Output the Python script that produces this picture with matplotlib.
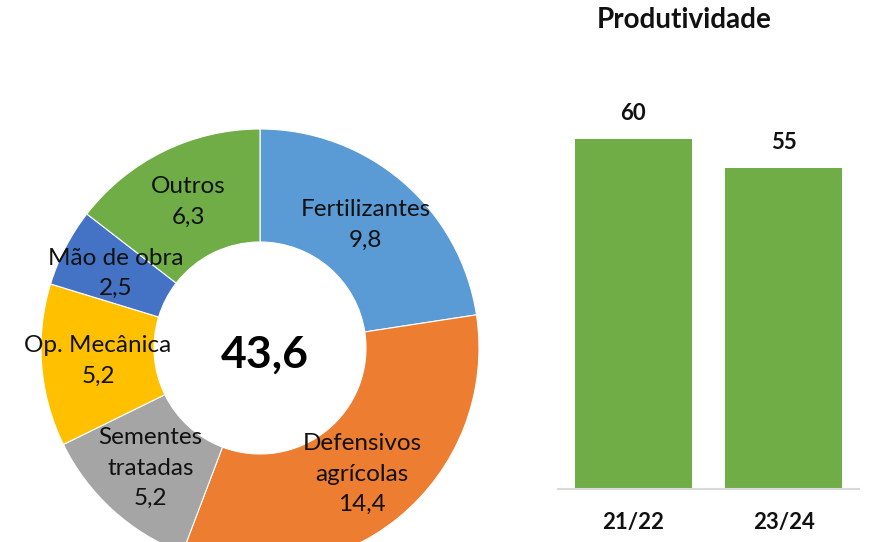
import matplotlib
matplotlib.use("Agg")
import matplotlib.pyplot as plt

plt.rcParams['font.family'] = ['Lato', 'DejaVu Sans']

# Donut data (custo, clockwise from top)
cost_names = ["Fertilizantes", "Defensivos\nagrícolas", "Sementes\ntratadas",
              "Op. Mecânica", "Mão de obra", "Outros"]
cost_values = [9.8, 14.4, 5.2, 5.2, 2.5, 6.3]
cost_colors = ["#5B9BD5", "#ED7D31", "#A5A5A5", "#FFC000", "#4472C4", "#70AD47"]
total_label = "43,6"

# Bar data (produtividade)
seasons = ["21/22", "23/24"]
productivity = [60, 55]
bar_color = "#70AD47"

W, H = 871, 542
fig = plt.figure(figsize=(W / 100, H / 100), dpi=100)

# ---- Donut ----
cx, cy, R = 260, 348, 219
ax1 = fig.add_axes([(cx - R) / W, (H - cy - R) / H, 2 * R / W, 2 * R / H])
fmt = lambda v: f"{v:.1f}".replace(".", ",")
labels = [f"{n}\n{fmt(v)}" for n, v in zip(cost_names, cost_values)]
wedges, texts = ax1.pie(cost_values, colors=cost_colors, startangle=90, counterclock=False,
                        radius=1, labels=labels, labeldistance=0.742,
                        wedgeprops=dict(width=113 / 219, edgecolor="white", linewidth=0.8),
                        textprops=dict(fontsize=17.5, color="#111111", ha="center", va="center",
                                       linespacing=1.55))
for t in texts:
    t.set_ha("center")
    t.set_va("center")
ax1.set_xlim(-1, 1)
ax1.set_ylim(-1, 1)
ax1.text(0.02, -0.03, total_label, ha="center", va="center", fontsize=32,
         fontweight="bold", color="black")
ax1.axis("off")

# ---- Bars ----
base_y = 489
scale = 5.83  # px per unit
ax_h = 400
ax2 = fig.add_axes([558 / W, (H - base_y) / H, 301 / W, ax_h / H])
x = list(range(len(seasons)))
bars = ax2.bar(x, productivity, width=0.775, color=bar_color)
ax2.set_xlim(-0.5, 1.5)
ax2.set_ylim(0, ax_h / scale)
for b, v in zip(bars, productivity):
    ax2.annotate(str(v), (b.get_x() + b.get_width() / 2, v), xytext=(0, 26 * 0.72),
                 textcoords="offset points", ha="center", va="center",
                 fontsize=16, fontweight="bold", color="#111111")
ax2.set_xticks(x)
ax2.set_xticklabels(seasons, fontsize=16, fontweight="bold", color="#111111")
ax2.tick_params(axis="x", length=0, pad=33 * 0.72)
for lab in ax2.get_xticklabels():
    lab.set_va("center")
ax2.set_yticks([])
for s in ["top", "left", "right"]:
    ax2.spines[s].set_visible(False)
ax2.spines["bottom"].set_color("#D9D9D9")
ax2.spines["bottom"].set_linewidth(1.5)
ax2.patch.set_alpha(0)

fig.text(684 / W, 1 - 20 / H, "Produtividade", ha="center", va="center",
         fontsize=20, fontweight="bold", color="#111111")

fig.savefig("out.png", dpi=100)
